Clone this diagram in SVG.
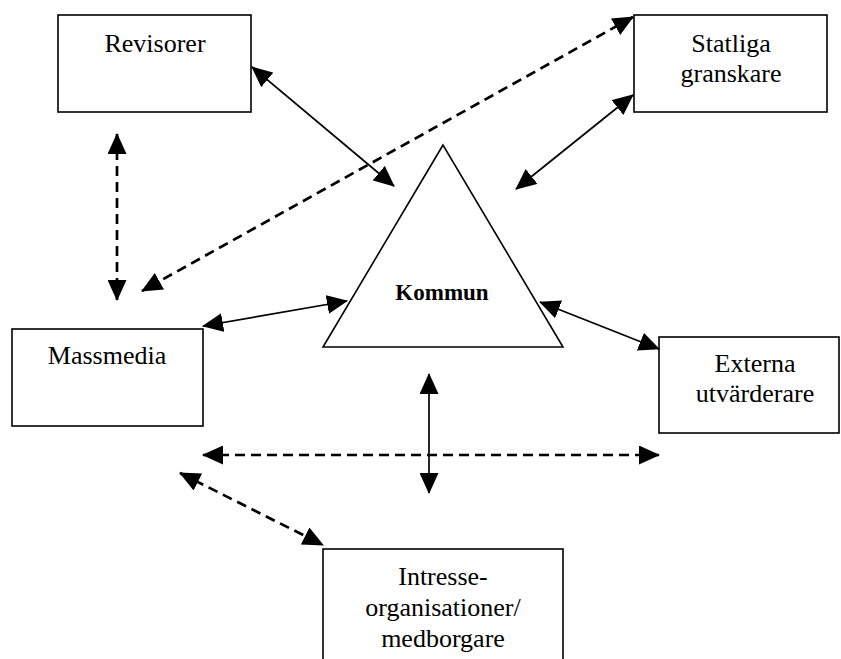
<svg xmlns="http://www.w3.org/2000/svg" width="841" height="659" viewBox="0 0 841 659">
<style>
.box{fill:#fff;stroke:#000;stroke-width:1.6}
.t{font-family:"Liberation Serif","Times New Roman",serif;font-size:26px;fill:#000;text-anchor:middle}
.b{font-weight:bold;font-size:23px}
.s{stroke:#000;stroke-width:1.7;fill:none;marker-start:url(#ah);marker-end:url(#ah)}
.d{stroke:#000;stroke-width:2.7;fill:none;stroke-dasharray:10 6;marker-start:url(#ah);marker-end:url(#ah)}
</style>
<defs>
<marker id="ah" viewBox="0 0 21 19" refX="20" refY="9.5" markerWidth="21" markerHeight="19" markerUnits="userSpaceOnUse" orient="auto-start-reverse">
<path d="M0,0 L21,9.5 L0,19 z" fill="#000"/>
</marker>
</defs>
<rect width="841" height="659" fill="#fff"/>
<g id="revisorer"><rect class="box" x="58" y="15" width="193" height="97"/><text class="t" x="155" y="52">Revisorer</text></g>
<g id="statliga"><rect class="box" x="634" y="15" width="193" height="97"/><text class="t" x="731" y="52">Statliga</text><text class="t" x="731" y="82">granskare</text></g>
<g id="kommun"><polygon class="box" points="443,145 323,347 563,347"/><text class="t b" x="442" y="300">Kommun</text></g>
<g id="massmedia"><rect class="box" x="12" y="329" width="191" height="97"/><text class="t" x="107" y="364">Massmedia</text></g>
<g id="externa"><rect class="box" x="659" y="337" width="180" height="96"/><text class="t" x="755" y="372">Externa</text><text class="t" x="755" y="402">utvärderare</text></g>
<g id="intresse"><rect class="box" x="323" y="549" width="240" height="120"/><text class="t" x="443" y="585">Intresse-</text><text class="t" x="443" y="616">organisationer/</text><text class="t" x="443" y="647">medborgare</text></g>
<g id="connectors">
<line class="s" x1="252" y1="67" x2="394" y2="186"/>
<line class="s" x1="633" y1="95" x2="516" y2="189"/>
<line class="d" x1="633" y1="17" x2="142" y2="291"/>
<line class="d" x1="117" y1="134" x2="117" y2="300"/>
<line class="s" x1="203" y1="326" x2="347" y2="301"/>
<line class="s" x1="540" y1="302" x2="659" y2="349"/>
<line class="s" x1="429" y1="374" x2="429" y2="493"/>
<line class="d" x1="203" y1="455" x2="659" y2="455"/>
<line class="d" x1="180" y1="473" x2="323" y2="545"/>
</g>
</svg>
